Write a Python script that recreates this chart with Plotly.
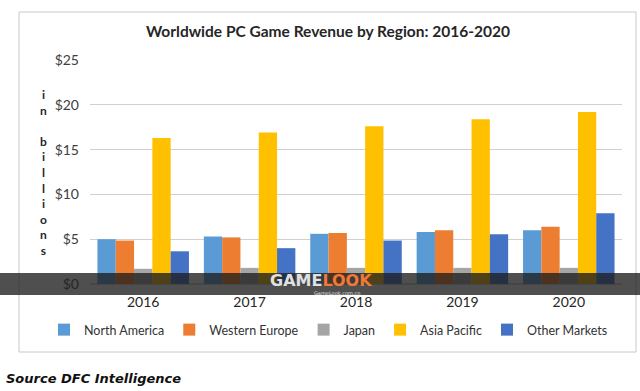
import plotly.graph_objects as go

years = ["2016", "2017", "2018", "2019", "2020"]
north_america = [5.0, 5.3, 5.6, 5.8, 6.0]
western_europe = [4.85, 5.2, 5.7, 6.0, 6.4]
japan = [1.7, 1.8, 1.8, 1.8, 1.8]
asia_pacific = [16.3, 16.9, 17.6, 18.4, 19.2]
other_markets = [3.65, 4.0, 4.85, 5.55, 7.9]

series = [
    ("North America", north_america, "#5B9BD5"),
    ("Western Europe", western_europe, "#ED7D31"),
    ("Japan", japan, "#A5A5A5"),
    ("Asia Pacific", asia_pacific, "#FFC000"),
    ("Other Markets", other_markets, "#4472C4"),
]

ytick_vals = [0, 5, 10, 15, 20, 25]
ytick_text = ["$0", "$5", "$10", "$15", "$20", "$25"]

FONT = "Lato, 'Liberation Sans', sans-serif"

fig = go.Figure()
for name, vals, col in series:
    fig.add_trace(go.Bar(x=years, y=vals, name=name, marker=dict(color=col, line=dict(width=0))))

# Plot geometry (pixels) for paper-coordinate conversion
L, R, T, B = 90, 18, 60, 107
W, H = 640, 391
pw, ph = W - L - R, H - T - B


def px(x):
    return (x - L) / pw


def py(y):
    return (H - B - y) / ph


fig.update_layout(
    width=W, height=H,
    margin=dict(l=L, r=R, t=T, b=B, autoexpand=False),
    paper_bgcolor="white", plot_bgcolor="white",
    barmode="group", bargap=0.14, bargroupgap=0,
    font=dict(family=FONT, color="#595959", size=13),
    title=dict(text="<b>Worldwide PC Game Revenue by Region: 2016-2020</b>",
               x=328 / W, xanchor="center", xref="container", y=1 - 32 / H, yanchor="middle",
               font=dict(size=15.5, color="#262626", family=FONT)),
    xaxis=dict(showgrid=False, showline=False, ticks="", ticklabelstandoff=8,
               tickfont=dict(size=14, color="#262626")),
    yaxis=dict(range=[0, 25], tickvals=ytick_vals, ticktext=ytick_text, showgrid=True,
               gridcolor="#D0D0D0", gridwidth=1, zeroline=True, zerolinecolor="#D0D0D0",
               tickfont=dict(size=14, color="#404040"), ticklabelstandoff=10, showline=False),
    legend=dict(orientation="h", xref="paper", x=px(44), xanchor="left",
                yref="paper", y=py(330), yanchor="middle",
                font=dict(size=12.5, color="#333333"), itemwidth=30, traceorder="normal",
                tracegroupgap=0, bgcolor="rgba(0,0,0,0)"),
    showlegend=True,
)

# Chart border box
fig.add_shape(type="rect", xref="paper", yref="paper",
              x0=px(19), x1=px(636), y0=py(352), y1=py(12),
              line=dict(color="#C8C8C8", width=1), fillcolor="rgba(0,0,0,0)", layer="below")

# Vertical axis label (stacked letters)
fig.add_annotation(text="<b>i<br>n<br><br>b<br>i<br>l<br>l<br>i<br>o<br>n<br>s</b>",
                   xref="paper", yref="paper", x=px(43), y=py(172), showarrow=False,
                   xanchor="center", yanchor="middle", align="center",
                   font=dict(size=12, color="#262626", family=FONT))

# Watermark band
fig.add_shape(type="rect", xref="paper", yref="paper",
              x0=px(0), x1=px(640), y0=py(295), y1=py(273),
              line=dict(width=0), fillcolor="rgba(30,30,30,0.78)", layer="above")
fig.add_annotation(text="<b><span style='color:#E0E0E0'>GAME</span><span style='color:#F07838'>LOOK</span></b>",
                   xref="paper", yref="paper", x=px(321), y=py(280.5), showarrow=False,
                   xanchor="center", yanchor="middle",
                   font=dict(size=16, family="'DejaVu Sans', sans-serif"))
fig.add_annotation(text="GameLook.com.cn", xref="paper", yref="paper", x=px(337), y=py(293),
                   xanchor="center", yanchor="middle",
                   showarrow=False, font=dict(size=5, color="#E0E0E0", family="'DejaVu Sans'"))

# Source caption
fig.add_annotation(text="<b><i>Source DFC Intelligence</i></b>", xref="paper", yref="paper",
                   x=px(4), y=py(378), xanchor="left", yanchor="middle", showarrow=False,
                   font=dict(size=13, color="#111111", family="'DejaVu Sans', sans-serif"))

fig.write_html("out.html", config={"displayModeBar": False},
               post_script="document.body.style.margin='0';")
